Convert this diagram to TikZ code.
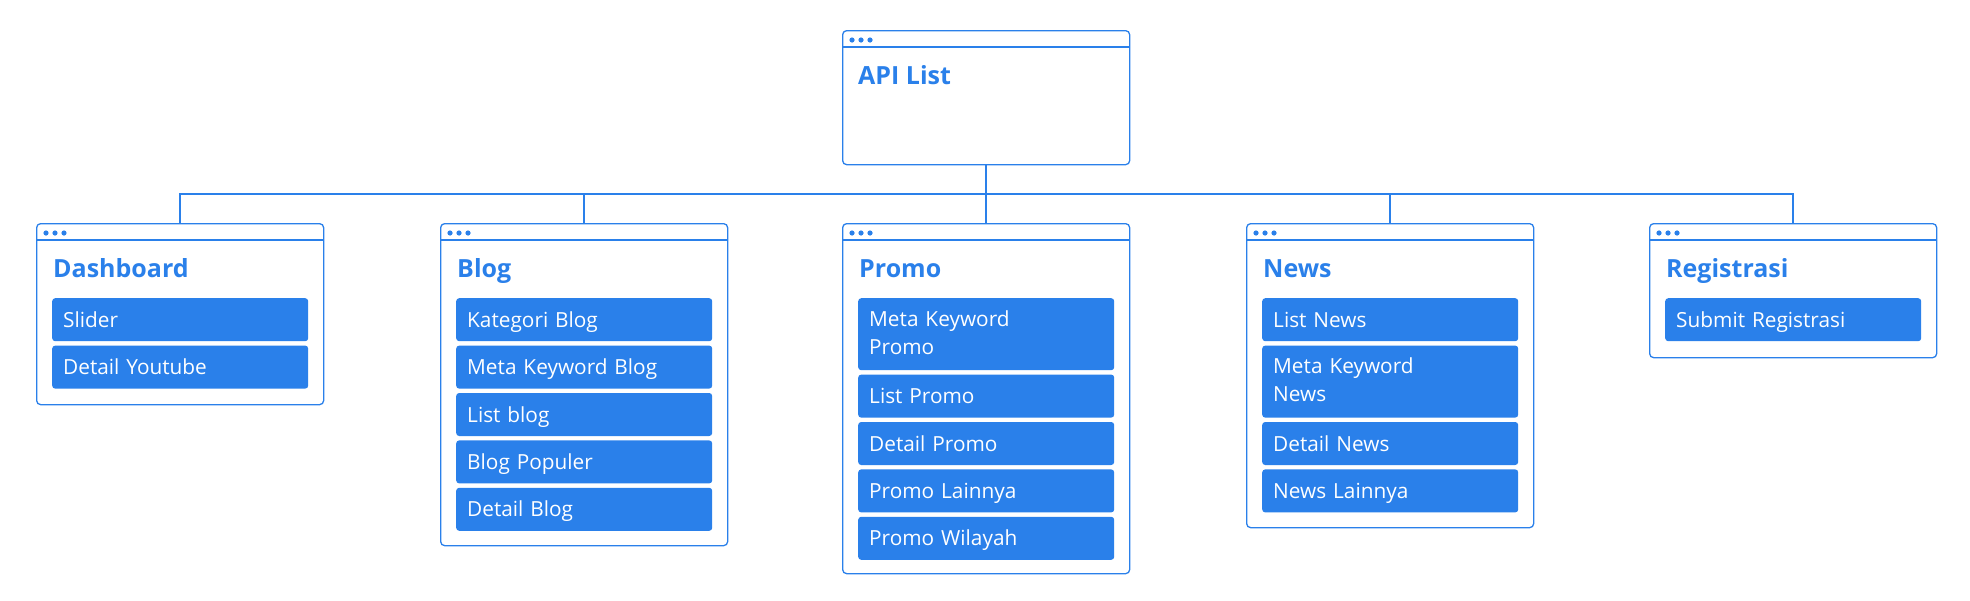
\documentclass[tikz,border=0pt]{standalone}
\usepackage{fontspec}
\setmainfont{Open Sans}
\definecolor{bl}{RGB}{42,128,234}
\tikzset{
  win/.style={draw=bl, line width=1.3pt, rounded corners=4pt, fill=white, anchor=north west, minimum width=287pt, inner sep=0pt},
  hdr/.style={draw=bl, line width=1.3pt},
  item/.style={fill=bl, rounded corners=3pt, anchor=north west, minimum width=256pt, minimum height=43pt, text width=234pt, inner xsep=11pt, inner ysep=0pt, align=left, text=white, font=\fontsize{20.8}{28}\selectfont, text height=15pt, text depth=0pt},
  itemtwo/.style={item, minimum height=72pt, text height=15pt, text depth=31pt},
  ttl/.style={anchor=base west, text=bl, font=\fontsize{25}{30}\selectfont\bfseries, inner sep=0pt},
  dot/.style={circle, fill=bl, inner sep=0pt, minimum size=5.2pt},
  conn/.style={draw=bl, line width=1.8pt}
}
\newcommand\wbox[4]{%
  \node[win, minimum height=#3] (#1) at (#2,223) {};
  \draw[hdr] ([yshift=-17pt]#1.north west) -- ([yshift=-17pt]#1.north east);
  \node[dot] (#1da) at ([xshift=10pt, yshift=-10pt]#1.north west) {};
  \node[dot] (#1db) at ([xshift=19pt, yshift=-10pt]#1.north west) {};
  \node[dot] (#1dc) at ([xshift=28pt, yshift=-10pt]#1.north west) {};
  \node[ttl] (#1t) at ([xshift=17pt, yshift=-54pt]#1.north west) {#4};
}
\begin{document}
\begin{tikzpicture}[x=1pt, y=-1pt]
\useasboundingbox (0,0) rectangle (1970,600);
% top box
\node[win, minimum height=134pt] (api) at (842,30) {};
\draw[hdr] ([yshift=-17pt]api.north west) -- ([yshift=-17pt]api.north east);
\node[dot] (apida) at ([xshift=10pt, yshift=-10pt]api.north west) {};
\node[dot] (apidb) at ([xshift=19pt, yshift=-10pt]api.north west) {};
\node[dot] (apidc) at ([xshift=28pt, yshift=-10pt]api.north west) {};
\node[ttl] (apit) at ([xshift=16pt, yshift=-54pt]api.north west) {API List};

% child windows
\wbox{dash}{36}{181pt}{Dashboard}
\wbox{blog}{440}{322pt}{Blog}
\wbox{promo}{842}{350pt}{Promo}
\wbox{news}{1246}{304pt}{News}
\wbox{reg}{1649}{134pt}{Registrasi}

% connectors
\draw[conn] (api.south) -- ++(0,29) coordinate (j);
\draw[conn] (dash.north) -- (dash.north |- j) -- (reg.north |- j) -- (reg.north);
\draw[conn] (blog.north) -- (blog.north |- j);
\draw[conn] (promo.north) -- (promo.north |- j);
\draw[conn] (news.north) -- (news.north |- j);

% dashboard items
\node[item] (d1) at ([xshift=16pt, yshift=-75pt]dash.north west) {Slider};
\node[item] (d2) at ([yshift=-4pt]d1.south west) {Detail Youtube};

% blog items
\node[item] (b1) at ([xshift=16pt, yshift=-75pt]blog.north west) {Kategori Blog};
\node[item] (b2) at ([yshift=-4pt]b1.south west) {Meta Keyword Blog};
\node[item] (b3) at ([yshift=-4pt]b2.south west) {List blog};
\node[item] (b4) at ([yshift=-4pt]b3.south west) {Blog Populer};
\node[item] (b5) at ([yshift=-4pt]b4.south west) {Detail Blog};

% promo items
\node[itemtwo] (p1) at ([xshift=16pt, yshift=-75pt]promo.north west) {Meta Keyword\\Promo};
\node[item] (p2) at ([yshift=-4pt]p1.south west) {List Promo};
\node[item] (p3) at ([yshift=-4pt]p2.south west) {Detail Promo};
\node[item] (p4) at ([yshift=-4pt]p3.south west) {Promo Lainnya};
\node[item] (p5) at ([yshift=-4pt]p4.south west) {Promo Wilayah};

% news items
\node[item] (n1) at ([xshift=16pt, yshift=-75pt]news.north west) {List News};
\node[itemtwo] (n2) at ([yshift=-4pt]n1.south west) {Meta Keyword\\News};
\node[item] (n3) at ([yshift=-4pt]n2.south west) {Detail News};
\node[item] (n4) at ([yshift=-4pt]n3.south west) {News Lainnya};

% registrasi items
\node[item] (r1) at ([xshift=16pt, yshift=-75pt]reg.north west) {Submit Registrasi};
\end{tikzpicture}
\end{document}
